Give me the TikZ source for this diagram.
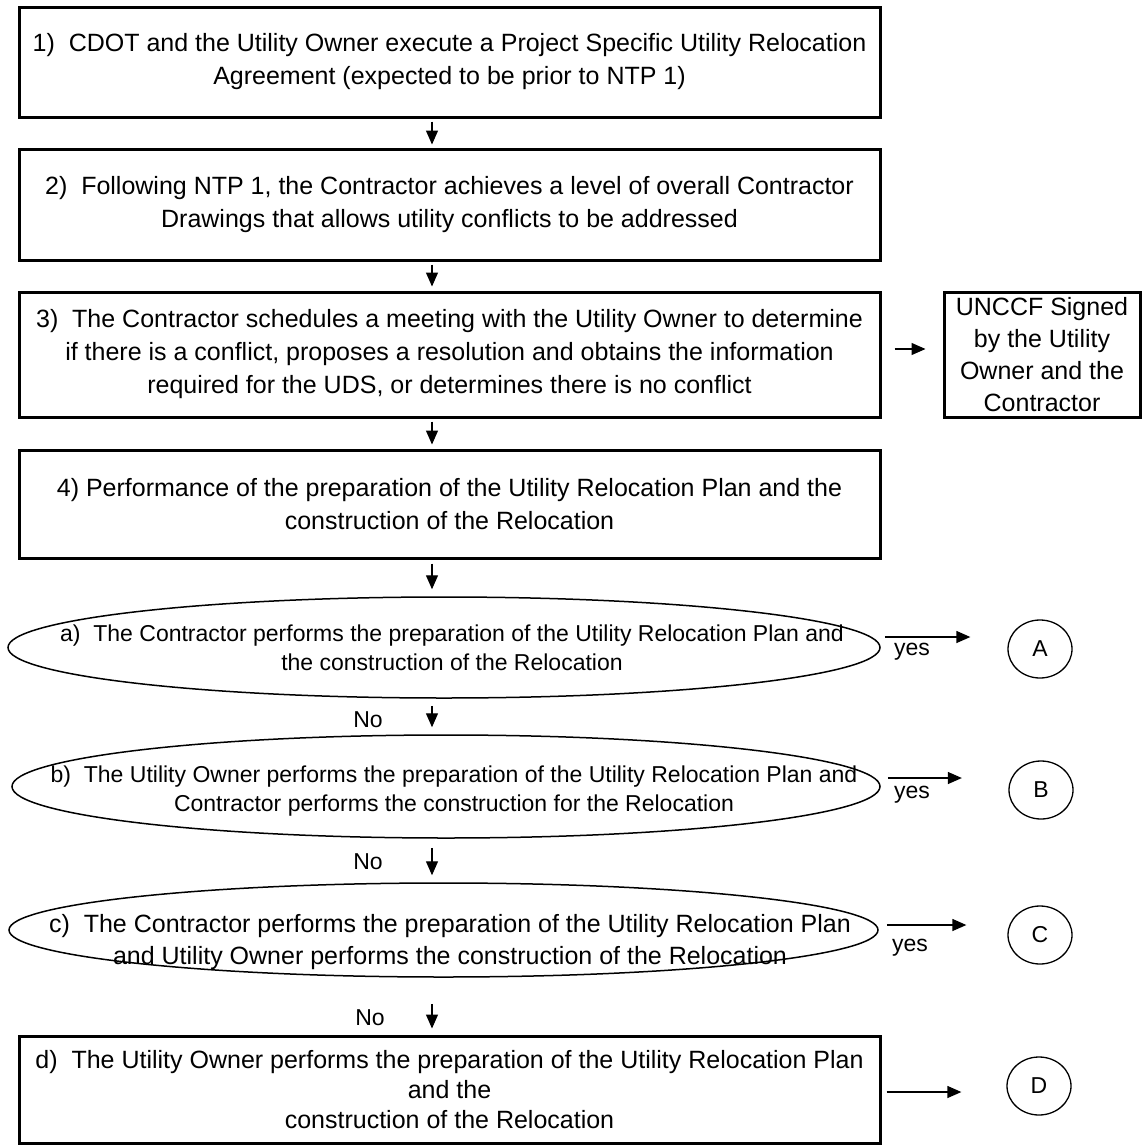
\documentclass[tikz,border=0pt]{standalone}
\usepackage{fontspec}
\setmainfont{Liberation Sans}
\usetikzlibrary{arrows.meta,calc,shapes.geometric}
\begin{document}
\begin{tikzpicture}[x=1pt,y=-1pt,
  box/.style={draw, line width=3pt, minimum width=861pt, inner sep=0pt, align=center, font=\fontsize{25}{33}\selectfont},
  ell/.style={draw, ellipse, line width=1.5pt, inner sep=0pt},
  etxt/.style={align=center, inner sep=0pt, font=\fontsize{23}{29}\selectfont},
  arr/.style={-{Triangle[length=14pt,width=12pt]}, line width=1.3pt},
  circ/.style={draw, ellipse, line width=1.3pt, minimum width=64pt, minimum height=58pt, inner sep=0pt, font=\fontsize{23}{27}\selectfont},
  lbl/.style={inner sep=0pt, font=\fontsize{23}{27}\selectfont}]
\useasboundingbox (0,0) rectangle (1144,1146);
\coordinate (xl) at (432,0);
% main boxes
\node[box, minimum height=110pt] (b1) at (449.5,62) {1)~~CDOT and the Utility Owner execute a Project Specific Utility Relocation\\Agreement (expected to be prior to NTP 1)};
\node[box, minimum height=111pt] (b2) at (449.5,204.5) {2)~~Following NTP 1, the Contractor achieves a level of overall Contractor\\Drawings that allows utility conflicts to be addressed};
\node[box, minimum height=125pt] (b3) at (449.5,354.5) {3)~~The Contractor schedules a meeting with the Utility Owner to determine\\if there is a conflict, proposes a resolution and obtains the information\\required for the UDS, or determines there is no conflict};
\node[box, minimum width=196pt, minimum height=125pt, font=\fontsize{25}{32}\selectfont] (bu) at (1042,354.5) {UNCCF Signed\\by the Utility\\Owner and the\\Contractor};
\node[box, minimum height=108pt] (b4) at (449.5,504) {4) Performance of the preparation of the Utility Relocation Plan and the\\construction of the Relocation};
% decision ellipses
\node[ell, minimum width=872pt, minimum height=101pt] (ea) at (444,647.5) {};
\node[etxt] (ta) at (452,647.5) {a)~~The Contractor performs the preparation of the Utility Relocation Plan and\\the construction of the Relocation};
\node[ell, minimum width=868pt, minimum height=103pt] (eb) at (446,786.5) {};
\node[etxt] (tb) at (454,791) {b)~~The Utility Owner performs the preparation of the Utility Relocation Plan and\\Contractor performs the construction for the Relocation};
\node[ell, minimum width=869pt, minimum height=94pt] (ec) at (443.5,930) {};
\node[etxt, font=\fontsize{25}{32}\selectfont] (tc) at (450,942) {c)~~The Contractor performs the preparation of the Utility Relocation Plan\\and Utility Owner performs the construction of the Relocation};
\node[box, minimum height=107pt, font=\fontsize{25}{30}\selectfont] (bd) at (449.5,1089.5) {d)~~The Utility Owner performs the preparation of the Utility Relocation Plan\\and the\\construction of the Relocation};
% circles
\node[circ] (cA) at (1040,649) {A};
\node[circ] (cB) at (1041,790) {B};
\node[circ] (cC) at (1040,935) {C};
\node[circ] (cD) at (1039,1086) {D};
% vertical arrows
\draw[arr] ($(b1.south -| xl)+(0,3)$) -- ($(b2.north -| xl)+(0,-3)$);
\draw[arr] ($(b2.south -| xl)+(0,3)$) -- ($(b3.north -| xl)+(0,-4)$);
\draw[arr] ($(b3.south -| xl)+(0,3)$) -- ($(b4.north -| xl)+(0,-4)$);
\draw[arr] ($(b4.south -| xl)+(0,4)$) -- ($(ea.north -| xl)+(0,-7)$);
\draw[arr] ($(ea.south -| xl)+(0,7)$) -- ($(eb.north -| xl)+(0,-7)$);
\draw[arr] ($(eb.south -| xl)+(0,9)$) -- ($(ec.north -| xl)+(0,-7)$);
\draw[arr] ($(ec.south -| xl)+(0,26)$) -- ($(bd.north -| xl)+(0,-6)$);
\node[lbl] (no1) at (368,720) {No};
\node[lbl] (no2) at (368,862) {No};
\node[lbl] (no3) at (370,1018) {No};
% horizontal arrows
\draw[arr] ($(b3.east)+(13,-5.5)$) -- ($(bu.west)+(-17,-5.5)$);
\draw[arr] ($(ea.east)+(4,-10.5)$) -- ($(cA.west)+(-37,-12)$);
\draw[arr] ($(eb.east)+(7,-8.5)$) -- ($(cB.west)+(-46.5,-12)$);
\draw[arr] ($(ec.east)+(8,-5)$) -- ($(cC.west)+(-41,-10)$);
\draw[arr] ($(bd.east)+(5,2.5)$) -- ($(cD.west)+(-45,6)$);
\node[lbl] (y1) at (912,652) {yes};
\node[lbl] (y2) at (912,795) {yes};
\node[lbl] (y3) at (910,948) {yes};
\end{tikzpicture}
\end{document}
